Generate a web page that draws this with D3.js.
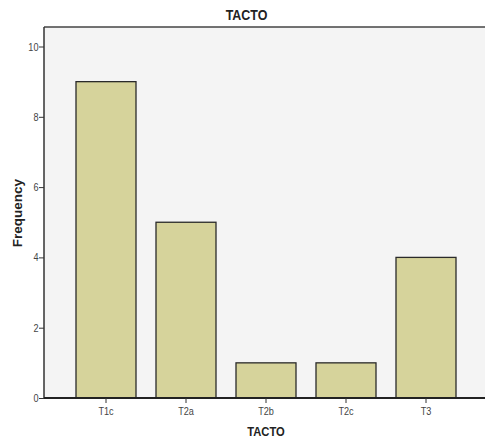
<!DOCTYPE html>
<html><head><meta charset="utf-8">
<script src="https://cdn.jsdelivr.net/npm/d3@7"></script>
<style>body{margin:0;background:#fff}</style>
</head><body>
<svg id="c" width="485" height="439"></svg>
<script>
const categories = ["T1c","T2a","T2b","T2c","T3"];
const frequencies = [9,5,1,1,4];
const yTicks = [0,2,4,6,8,10];

const svg = d3.select("#c");
const L = 44, T = 27, R = 485, B = 398;
const SX = 0.83;
const FONT = "Liberation Sans, Arial, sans-serif";
const y = d3.scaleLinear().domain([0,10]).range([B, 46.5]);
const x = d3.scaleBand().domain(categories).range([46, 486]).paddingInner(0.25).paddingOuter(0.375);

svg.append("rect").attr("x",L).attr("y",T).attr("width",R-L).attr("height",B-T).attr("fill","#f4f4f4");
svg.append("line").attr("x1",L).attr("x2",R).attr("y1",T).attr("y2",T).attr("stroke","#444").attr("stroke-width",1.5);

svg.selectAll(".bar").data(frequencies).join("rect")
  .attr("x",(d,i)=>x(categories[i])).attr("width",x.bandwidth())
  .attr("y",d=>y(d)).attr("height",d=>y(0)-y(d))
  .attr("fill","#d6d39b").attr("stroke","#2a2a2a").attr("stroke-width",1.3);

const ya = svg.append("g").attr("transform",`translate(${L},0)`)
  .call(d3.axisLeft(y).tickValues(yTicks).tickSize(5).tickPadding(1));
ya.select(".domain").attr("stroke","#333").attr("stroke-width",1.5).attr("d",`M0,${T}V${B}`);
ya.selectAll("text").attr("font-family",FONT).attr("font-size",11).attr("fill","#444")
  .attr("x",-5.5/SX).attr("transform",`scale(${SX},1)`);
ya.selectAll(".tick line").attr("stroke","#333");

const xa = svg.append("g").attr("transform",`translate(0,${B})`)
  .call(d3.axisBottom(x).tickSize(5).tickPadding(3));
xa.select(".domain").attr("stroke","#222").attr("stroke-width",2).attr("d",`M${L},0H${R}`);
xa.selectAll("text").attr("font-family",FONT).attr("font-size",11).attr("fill","#444")
  .attr("dy",null).attr("y",17).attr("transform",`scale(${SX},1)`);
xa.selectAll(".tick line").attr("stroke","#333");

svg.append("text").attr("transform",`translate(246.5,20) scale(${SX},1)`).attr("text-anchor","middle")
  .attr("font-family",FONT).attr("font-weight","bold").attr("font-size",15).attr("fill","#222").text("TACTO");
svg.append("text").attr("transform",`translate(266,435.5) scale(${SX},1)`).attr("text-anchor","middle")
  .attr("font-family",FONT).attr("font-weight","bold").attr("font-size",13.5).attr("fill","#222").text("TACTO");
svg.append("text").attr("transform","translate(22,213) rotate(-90)").attr("text-anchor","middle")
  .attr("font-family",FONT).attr("font-weight","bold").attr("font-size",13.5).attr("fill","#222").text("Frequency");
</script>
</body></html>
